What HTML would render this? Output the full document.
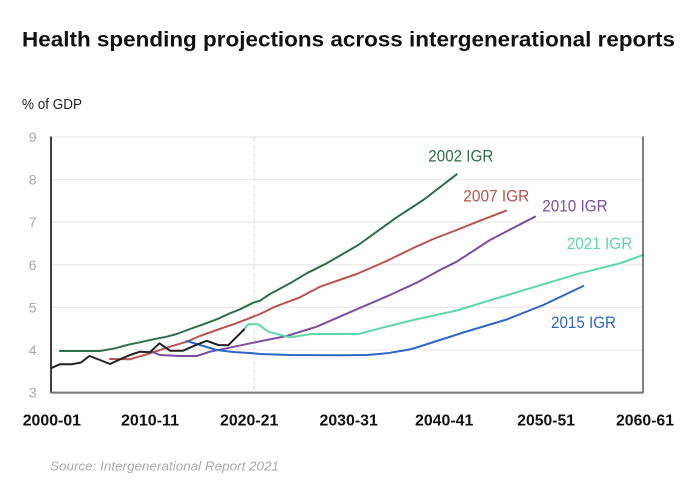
<!DOCTYPE html>
<html>
<head>
<meta charset="utf-8">
<style>
  html,body{margin:0;padding:0;background:#fff;}
  svg{display:block;}
  text{font-family:"Liberation Sans",Arial,sans-serif;}
</style>
</head>
<body>
<svg width="700" height="487" viewBox="0 0 700 487" xmlns="http://www.w3.org/2000/svg">
  <rect width="700" height="487" fill="#fff"/>
  <!-- Title -->
  <text x="22" y="46.5" font-size="21" font-weight="bold" fill="#111" textLength="653" lengthAdjust="spacingAndGlyphs">Health spending projections across intergenerational reports</text>
  <text x="22" y="109" font-size="14.5" fill="#222" textLength="60" lengthAdjust="spacingAndGlyphs">% of GDP</text>

  <!-- gridlines -->
  <g stroke="#ececec" stroke-width="1.3">
    <line x1="51" y1="137" x2="643" y2="137"/>
    <line x1="51" y1="179.6" x2="643" y2="179.6"/>
    <line x1="51" y1="222.2" x2="643" y2="222.2"/>
    <line x1="51" y1="264.8" x2="643" y2="264.8"/>
    <line x1="51" y1="307.3" x2="643" y2="307.3"/>
    <line x1="51" y1="349.9" x2="643" y2="349.9"/>
  </g>
  <!-- dashed vertical -->
  <line x1="254.3" y1="137" x2="254.3" y2="392" stroke="#dcdcdc" stroke-width="1" stroke-dasharray="4,4"/>

  <!-- y labels -->
  <g font-size="14" fill="#a8a8a8" text-anchor="end">
    <text x="36.5" y="142">9</text>
    <text x="36.5" y="184.6">8</text>
    <text x="36.5" y="227.2">7</text>
    <text x="36.5" y="269.8">6</text>
    <text x="36.5" y="312.3">5</text>
    <text x="36.5" y="354.9">4</text>
    <text x="36.5" y="397.5">3</text>
  </g>

  <!-- series -->
  <g fill="none" stroke-width="2" stroke-linejoin="round" stroke-linecap="round">
    <!-- 2002 green -->
    <polyline stroke="#2e6e48" points="60,351 100,351 115,348.3 130,344.3 140,342.3 153.3,339.3 166.7,336.7 176.7,334 190,329 203.3,324.3 216.7,319.3 230,313.3 240,309.3 253.3,302.7 260,300.7 270,294 290,283.3 306.7,273.3 326.7,263.3 358.3,245 396.7,217.3 423.3,200 456.7,174.3"/>
    <!-- 2007 red -->
    <polyline stroke="#b9534f" points="110,359 130,359.3 150,353.3 170,346.7 186.7,341.7 200,336 216.7,330 233.3,324.3 246.7,319.3 260,314 275,306.7 300,297.3 320,286.7 356.7,274 386.7,261 413.3,248 433.3,239 456.7,230 480,220.7 506,210.7"/>
    <!-- 2010 purple -->
    <polyline stroke="#7b4f9f" points="151.7,351.7 160,355 180,356 196.7,356 210,351.7 226.7,348.3 253.3,342.7 266.7,340 286.7,336 316.7,326.7 356.7,309.3 390,295 416.7,282.7 440,270 456.7,261.7 490,240 535,216.7"/>
    <!-- 2015 blue -->
    <polyline stroke="#2f67c4" points="186.7,341 200,345 216.7,350 233.3,352 253.3,353.3 260,354 290,355 340,355.3 366.7,355 386.7,353.3 406.7,350 413.3,348.5 440,340 463.3,332.5 480,327.5 506.7,319.5 543.3,305 583.3,286"/>
    <!-- 2021 teal -->
    <polyline stroke="#5dd8a6" points="243.3,330 248.3,324.3 258.3,324.3 268.3,331.7 290,337.3 311.7,334 358.3,334 380,328.3 413.3,320 456.7,310.5 513.3,293.3 580,273.3 620,263.3 643,255"/>
    <!-- historical black -->
    <polyline stroke="#222" points="51.5,368 60,364.2 71.7,364.3 81,362.5 89.5,356 100,360 110,364 120,359.3 130,355 140,351.7 150,352.2 159.5,343.3 170,350.7 183,350.7 196,345 206.7,340.8 218.3,345 228.3,345.2 244,329.5"/>
  </g>

  <!-- axes -->
  <line x1="51" y1="136.5" x2="51" y2="393" stroke="#111" stroke-width="1.6"/>
  <line x1="643" y1="136.5" x2="643" y2="393" stroke="#555" stroke-width="1.5"/>
  <line x1="50.5" y1="392.6" x2="643.5" y2="392.6" stroke="#777" stroke-width="2"/>

  <!-- series labels -->
  <g font-size="16.5">
    <text x="428.3" y="161.5" fill="#2e6e48" textLength="65" lengthAdjust="spacingAndGlyphs">2002 IGR</text>
    <text x="463.3" y="201.5" fill="#b9534f" textLength="66" lengthAdjust="spacingAndGlyphs">2007 IGR</text>
    <text x="542.3" y="211.3" fill="#7b4f9f" textLength="65.4" lengthAdjust="spacingAndGlyphs">2010 IGR</text>
    <text x="566.7" y="249.2" fill="#5dd8a6" textLength="65.6" lengthAdjust="spacingAndGlyphs">2021 IGR</text>
    <text x="551" y="328.2" fill="#2f67c4" textLength="65" lengthAdjust="spacingAndGlyphs">2015 IGR</text>
  </g>

  <!-- x labels -->
  <g font-size="16" font-weight="bold" fill="#111">
    <text x="22.7" y="425.7" textLength="58.3" lengthAdjust="spacingAndGlyphs">2000-01</text>
    <text x="121" y="425.7" textLength="58" lengthAdjust="spacingAndGlyphs">2010-11</text>
    <text x="220" y="425.7" textLength="58.3" lengthAdjust="spacingAndGlyphs">2020-21</text>
    <text x="319.5" y="425.7" textLength="58.3" lengthAdjust="spacingAndGlyphs">2030-31</text>
    <text x="415" y="425.7" textLength="58.3" lengthAdjust="spacingAndGlyphs">2040-41</text>
    <text x="517.3" y="425.7" textLength="57.7" lengthAdjust="spacingAndGlyphs">2050-51</text>
    <text x="616" y="425.7" textLength="58" lengthAdjust="spacingAndGlyphs">2060-61</text>
  </g>

  <!-- source -->
  <text x="50" y="470.5" font-size="13" font-style="italic" fill="#aaa" textLength="229" lengthAdjust="spacingAndGlyphs">Source: Intergenerational Report 2021</text>
</svg>
</body>
</html>
